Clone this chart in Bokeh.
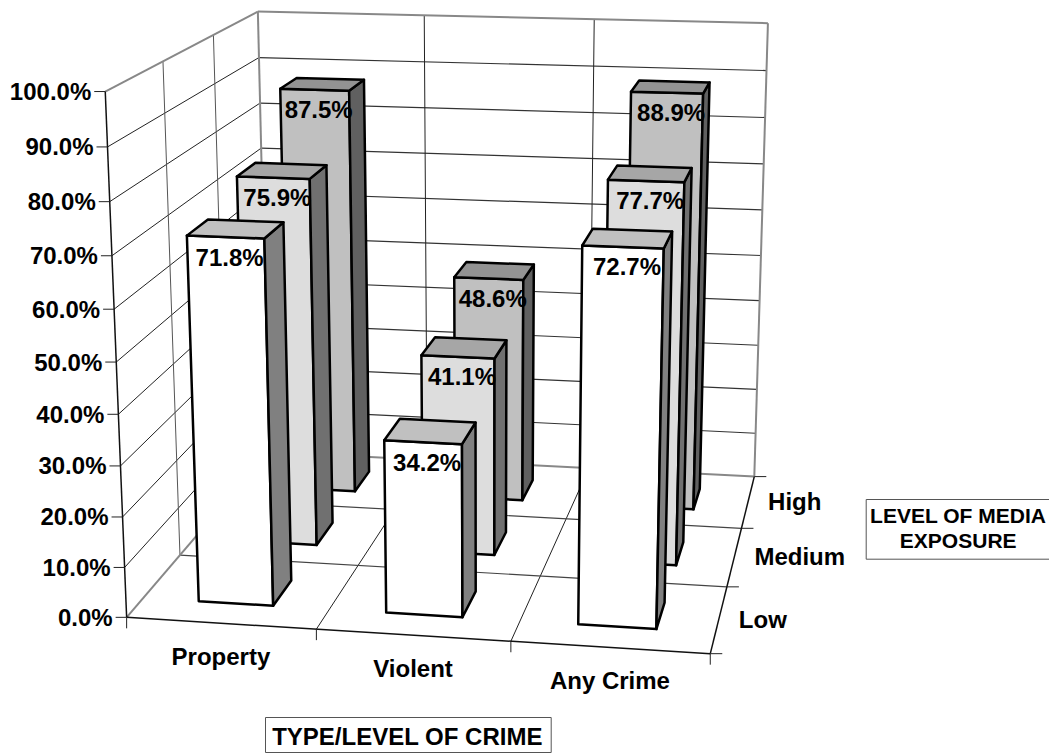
import numpy as np
from bokeh.plotting import figure
from bokeh.embed import file_html
from bokeh.resources import INLINE
from bokeh.core.properties import value

categories = ["Property", "Violent", "Any Crime"]
exposure = ["Low", "Medium", "High"]
low = [71.8, 34.2, 72.7]
medium = [75.9, 41.1, 77.7]
high = [87.5, 48.6, 88.9]
value_ticks = [0, 10, 20, 30, 40, 50, 60, 70, 80, 90, 100]

FONT = value("Liberation Sans")
BAR_W = 0.4
BAR_D = 0.4

# camera calibration: (category pos, depth pos, value) -> page pixel, frame corners only
CAL = [
    (0, 0, 100, 105, 90), (0, 0, 0, 125.7, 617.3), (0, 3, 100, 256.7, 11), (0, 3, 0, 269.7, 452),
    (3, 3, 100, 768.3, 22.3), (3, 3, 0, 753.3, 475.7), (3, 0, 0, 709.3, 653.3),
    (1, 0, 0, 315.3, 629), (2, 0, 0, 510.3, 641.7), (3, 1, 0, 726.7, 586), (3, 2, 0, 741, 527.3),
    (1, 3, 100, 423, 15), (2, 3, 100, 594, 20), (0, 0, 40, 119.3, 413), (0, 0, 60, 114, 308.3),
    (0, 0, 80, 109.3, 201.3), (0, 3, 90, 257.7, 56.7), (0, 3, 70, 260.7, 146.7),
    (0, 1, 0, 178.3, 554.3), (0, 1, 100, 162.7, 61.7), (0, 2, 100, 212.7, 35),
]


def fit_camera(cal):
    rows = []
    for a, b, c, u, v in cal:
        X = [a, b, c / 100.0, 1.0]
        u, v = u / 1000.0, v / 1000.0
        rows.append(X + [0, 0, 0, 0] + [-u * t for t in X])
        rows.append([0, 0, 0, 0] + X + [-v * t for t in X])
    _, _, vt = np.linalg.svd(np.array(rows))
    return vt[-1].reshape(3, 4)


P = fit_camera(CAL)


def proj(a, b, c):
    h = P @ np.array([a, b, c / 100.0, 1.0])
    return 1000.0 * h[0] / h[2], 1000.0 * h[1] / h[2]


p = figure(width=1049, height=756, x_range=(0, 1049), y_range=(756, 0), output_backend="svg",
           toolbar_location=None, min_border=0, outline_line_color=None)
p.xaxis.visible = False
p.yaxis.visible = False
p.grid.visible = False


def seg(pairs, color, width):
    xs, ys = [], []
    for a, b in pairs:
        pa, pb = proj(*a), proj(*b)
        xs.append([pa[0], pb[0]])
        ys.append([pa[1], pb[1]])
    p.multi_line(xs, ys, line_color=color, line_width=width)


# wall and floor grid
seg([((0, 0, v), (0, 3, v)) for v in value_ticks[1:-1]], "#222222", 1)
seg([((0, 3, v), (3, 3, v)) for v in value_ticks[1:-1]], "#333333", 1.2)
seg([((0, d, 0), (0, d, 100)) for d in (1, 2)], "#555555", 1)
seg([((x, 3, 0), (x, 3, 100)) for x in (1, 2)], "#222222", 1)
seg([((x, 0, 0), (x, 3, 0)) for x in (1, 2)], "#222222", 1)
seg([((0, d, 0), (3, d, 0)) for d in (1, 2)], "#444444", 1.2)
# frame
seg([((0, 0, 100), (0, 3, 100)), ((0, 3, 100), (3, 3, 100)), ((3, 3, 100), (3, 3, 0)),
     ((3, 3, 0), (0, 3, 0)), ((0, 3, 0), (0, 3, 100)), ((0, 3, 0), (0, 0, 0))], "#888888", 2)
# axes
seg([((0, 0, 0), (0, 0, 100)), ((0, 0, 0), (3, 0, 0)), ((3, 0, 0), (3, 3, 0))], "#111111", 1.5)

# ticks
for v in value_ticks:
    x, y = proj(0, 0, v)
    p.line([x - 11, x], [y, y], line_color="#222222", line_width=1)
for i in range(4):
    x, y = proj(i, 0, 0)
    p.line([x, x], [y, y + 11], line_color="#222222", line_width=1)
for d in range(4):
    x, y = proj(3, d, 0)
    p.line([x, x + 12], [y, y], line_color="#222222", line_width=1)

# bars
FRONT = ["#FFFFFF", "#DDDDDD", "#C0C0C0"]
SIDE = ["#808080", "#707070", "#606060"]
TOP = ["#C0C0C0", "#A6A6A6", "#939393"]
series = [low, medium, high]
labels = []
for d in (2, 1, 0):
    for i in (0, 1, 2):
        v = series[d][i]
        x0, x1 = i + 0.5 - BAR_W / 2, i + 0.5 + BAR_W / 2
        d0, d1 = d + 0.5 - BAR_D / 2, d + 0.5 + BAR_D / 2
        faces = [
            ([(x0, d0, 0), (x1, d0, 0), (x1, d0, v), (x0, d0, v)], FRONT[d]),
            ([(x1, d0, 0), (x1, d1, 0), (x1, d1, v), (x1, d0, v)], SIDE[d]),
            ([(x0, d0, v), (x1, d0, v), (x1, d1, v), (x0, d1, v)], TOP[d]),
        ]
        for pts, col in faces:
            q = [proj(*t) for t in pts]
            p.patch([c[0] for c in q], [c[1] for c in q], fill_color=col, line_color="#000000",
                    line_width=2.5, line_join="round")
        lx = (proj(x0, d0, v)[0] + proj(x1, d0, v)[0]) / 2 + 4
        ly = (proj(x0, d0, v)[1] + proj(x1, d0, v)[1]) / 2 + 20
        labels.append((lx, ly, f"{v:.1f}%"))

TS = "24px"


def text(x, y, s, align="center", size=TS):
    p.text([x], [y], [s], text_font=FONT, text_font_style="bold", text_font_size=size,
           text_align=align, text_baseline="middle", text_color="#000000")


for lx, ly, s in labels:
    text(lx, ly, s)
for v in value_ticks:
    x, y = proj(0, 0, v)
    text(x - 14, y, f"{v:.1f}%", align="right")
for i, c in enumerate(categories):
    x, y = proj(i + 0.5, 0, 0)
    text(x, y + 33, c)
for d, e in enumerate(exposure):
    x, y = proj(3, d + 0.5, 0)
    text(x + 20, y, e, align="left")

# axis title boxes
p.quad(left=[865.7], right=[1052], top=[499], bottom=[558.7], fill_color="#FFFFFF", line_color="#555555", line_width=1)
text(957.7, 515, "LEVEL OF MEDIA", size="21px")
text(957.7, 540, "EXPOSURE", size="21px")
p.quad(left=[265], right=[550.7], top=[717], bottom=[752], fill_color="#FFFFFF", line_color="#555555", line_width=1)
text(407, 735.7, "TYPE/LEVEL OF CRIME", size="24px")

open("out.html", "w").write(file_html(p, INLINE))
